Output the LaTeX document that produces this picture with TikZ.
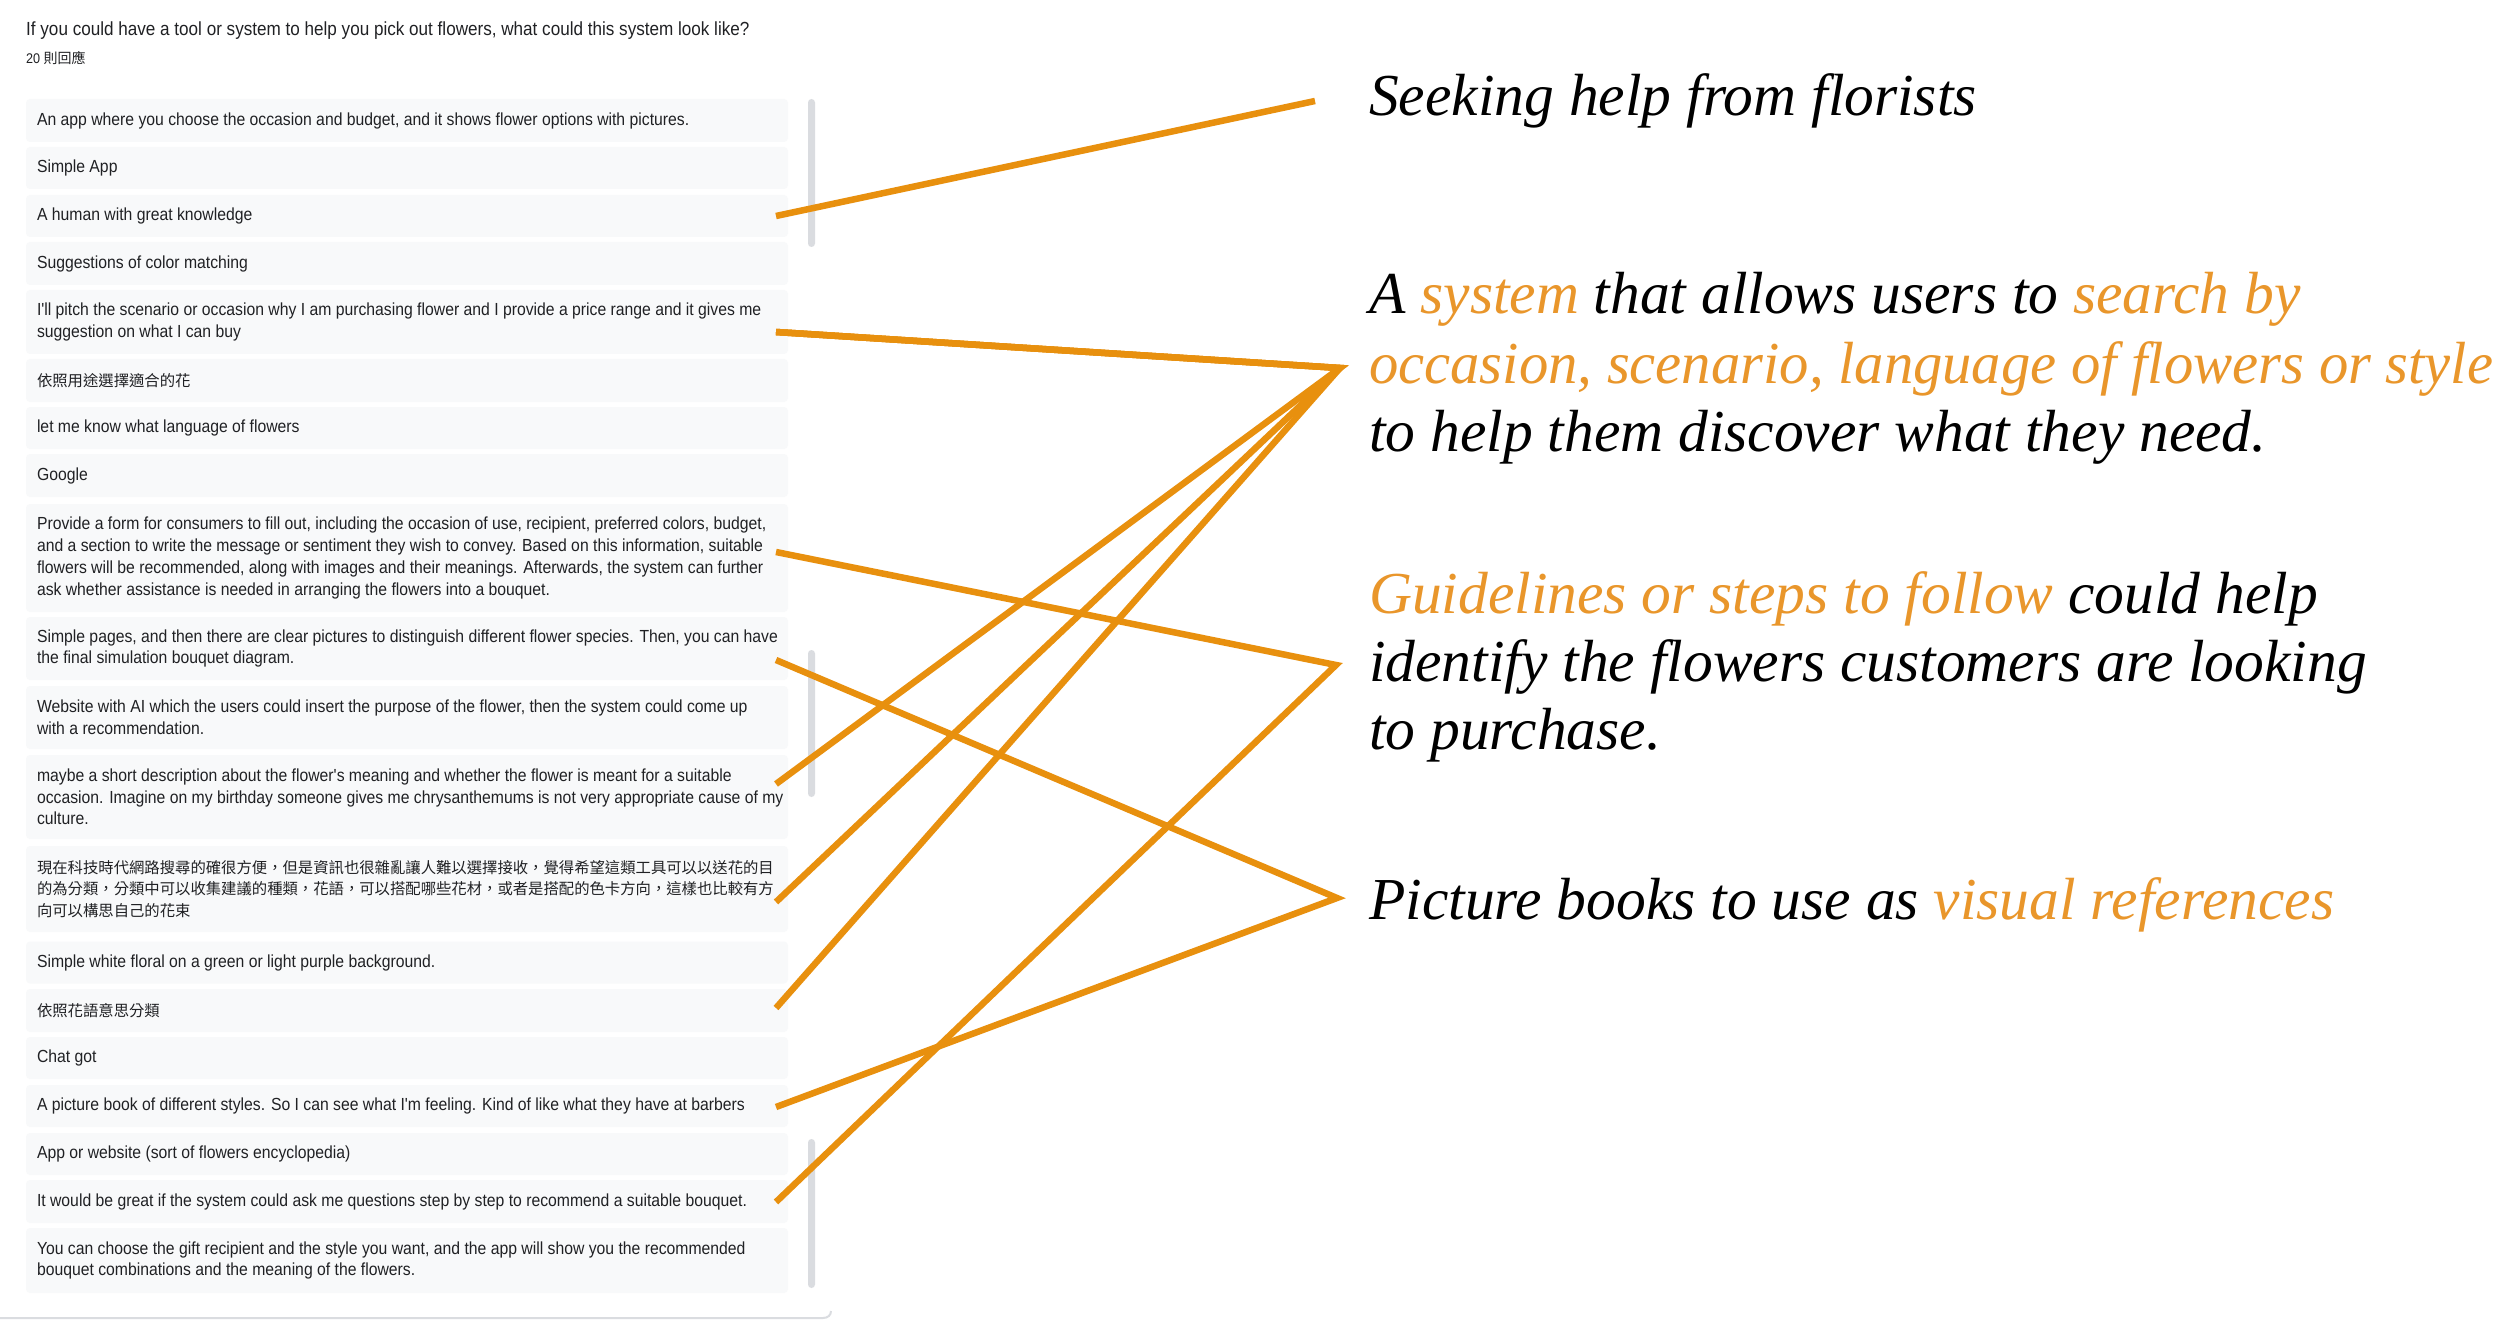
\documentclass[tikz,border=0pt]{standalone}
\usepackage{fontspec}
\setmainfont{Liberation Serif}
\newfontfamily\respfont[FakeStretch=0.9]{Liberation Sans}
\newfontfamily\cjkfont{Noto Sans CJK TC}
\definecolor{lcol}{HTML}{E8900E}
\definecolor{tcol}{HTML}{E9962B}
\definecolor{boxfill}{HTML}{F8F9FA}
\definecolor{ink}{HTML}{202124}
\definecolor{barcol}{HTML}{DADCE0}
\newcommand\orng[1]{\textcolor{tcol}{#1}}
\newcommand\respbox[4]{%
  \node[rbox, minimum height=#3pt] (r#1) at (407,#2) {};
  \node[rtext] (t#1) at ([xshift=11pt]r#1.west) {#4};}
\begin{document}
\begin{tikzpicture}[x=1pt,y=-1pt,
  rbox/.style={fill=boxfill, draw=none, rounded corners=4pt, minimum width=762pt, inner sep=0pt},
  rtext/.style={anchor=west, inner sep=0pt, align=left, text=ink, font=\respfont\fontsize{17.5}{21.7}\selectfont},
  cjk/.style={font=\cjkfont\fontsize{15.35}{21.8}\selectfont},
  link/.style={draw=lcol, line width=6.5pt, line cap=butt, line join=miter},
  bigtext/.style={anchor=base west, inner sep=0pt, font=\itshape\fontsize{59.5}{68.5}\selectfont, text=black},
  sbar/.style={fill=barcol, rounded corners=3.5pt, draw=none, minimum width=7pt, inner sep=0pt}
]
\fill[white] (0,0) rectangle (2500,1321);
\useasboundingbox (0,0) rectangle (2500,1321);

% header
\node[anchor=base west, inner sep=0pt, text=ink, font=\respfont\fontsize{19}{23}\selectfont] (title) at (26,35.5)
  {If you could have a tool or system to help you pick out flowers, what could this system look like?};
\node[anchor=base west, inner sep=0pt, text=ink, font=\respfont\fontsize{14}{17}\selectfont] (count) at (26,64)
  {20 {\cjkfont 則回應}};

% responses
\respbox{1}{120.5}{43}{An app where you choose the occasion and budget, and it shows flower options with pictures.}
\respbox{2}{168}{42}{Simple App}
\respbox{3}{216}{42}{A human with great knowledge}
\respbox{4}{263.5}{43}{Suggestions of color matching}
\respbox{5}{322}{64}{I'll pitch the scenario or occasion why I am purchasing flower and I provide a price range and it gives me\\suggestion on what I can buy}
\respbox{6}{380.5}{43}{{\cjkfont\fontsize{15.35}{21.8}\selectfont 依照用途選擇適合的花}}
\respbox{7}{428}{42}{let me know what language of flowers}
\respbox{8}{475.5}{43}{Google}
\respbox{9}{558}{108}{Provide a form for consumers to fill out, including the occasion of use, recipient, preferred colors, budget,\\and a section to write the message or sentiment they wish to convey. Based on this information, suitable\\flowers will be recommended, along with images and their meanings. Afterwards, the system can further\\ask whether assistance is needed in arranging the flowers into a bouquet.}
\respbox{10}{648.5}{63}{Simple pages, and then there are clear pictures to distinguish different flower species. Then, you can have\\the final simulation bouquet diagram.}
\respbox{11}{717.5}{63}{Website with AI which the users could insert the purpose of the flower, then the system could come up\\with a recommendation.}
\respbox{12}{797}{84}{maybe a short description about the flower's meaning and whether the flower is meant for a suitable\\occasion. Imagine on my birthday someone gives me chrysanthemums is not very appropriate cause of my\\culture.}
\node[rbox, minimum height=86pt] (r13) at (407,889) {};
\node[rtext, cjk] (t13) at ([xshift=11pt]r13.west) {現在科技時代網路搜尋的確很方便，但是資訊也很雜亂讓人難以選擇接收，覺得希望這類工具可以以送花的目\\的為分類，分類中可以收集建議的種類，花語，可以搭配哪些花材，或者是搭配的色卡方向，這樣也比較有方\\向可以構思自己的花束};
\respbox{14}{962.5}{42}{Simple white floral on a green or light purple background.}
\respbox{15}{1010.5}{43}{{\cjkfont\fontsize{15.35}{21.8}\selectfont 依照花語意思分類}}
\respbox{16}{1058}{42}{Chat got}
\respbox{17}{1106}{42}{A picture book of different styles. So I can see what I'm feeling. Kind of like what they have at barbers}
\respbox{18}{1154}{42}{App or website (sort of flowers encyclopedia)}
\respbox{19}{1201.5}{43}{It would be great if the system could ask me questions step by step to recommend a suitable bouquet.}
\respbox{20}{1260.5}{65}{You can choose the gift recipient and the style you want, and the app will show you the recommended\\bouquet combinations and the meaning of the flowers.}

% scroll bars and card edge
\node[sbar, minimum height=148pt] (sb1) at (811.5,173) {};
\node[sbar, minimum height=147pt] (sb2) at (811.5,723.5) {};
\node[sbar, minimum height=149pt] (sb3) at (811.5,1213.5) {};
\draw[barcol, line width=2pt] (0,1318) -- (823,1318) .. controls (828,1318) and (831,1315) .. (831,1311);

% right-hand statements
\node[bigtext] (s1) at (1369,116) {Seeking help from florists};
\node[bigtext] (a1) at (1369,314) {A \orng{system} that allows users to \orng{search by}};
\node[bigtext, text=tcol] (a2) at (1369,383) {\resizebox{1124pt}{\height}{occasion, scenario, language of flowers or style}};
\node[bigtext] (a3) at (1369,451) {to help them discover what they need.};
\node[bigtext] (g1) at (1369,613) {\orng{Guidelines or steps to follow} could help};
\node[bigtext] (g2) at (1369,681) {identify the flowers customers are looking};
\node[bigtext] (g3) at (1369,749) {to purchase.};
\node[bigtext] (p1) at (1369,919) {Picture books to use as \orng{visual references}};

% connector ends
\coordinate (h0) at (1315,101);
\coordinate (h1) at (1340,368);
\coordinate (h2) at (1336,665);
\coordinate (h3) at (1337,898);
\coordinate (e3) at (776,216);
\coordinate (e5) at (776,332);
\coordinate (e9) at (776,552);
\coordinate (e10) at (776,660);
\coordinate (e12) at (776,784);
\coordinate (e13) at (776,902);
\coordinate (e15) at (776,1008);
\coordinate (e17) at (776,1107);
\coordinate (e19) at (776,1202);

% connectors
\draw[link] (e3) -- (h0);
\draw[link] (e5) -- (h1) -- (e12);
\draw[link] (e5) -- (h1) -- (e13);
\draw[link] (e5) -- (h1) -- (e15);
\draw[link] (e9) -- (h2) -- (e19);
\draw[link] (e10) -- (h3) -- (e17);
\end{tikzpicture}
\end{document}
